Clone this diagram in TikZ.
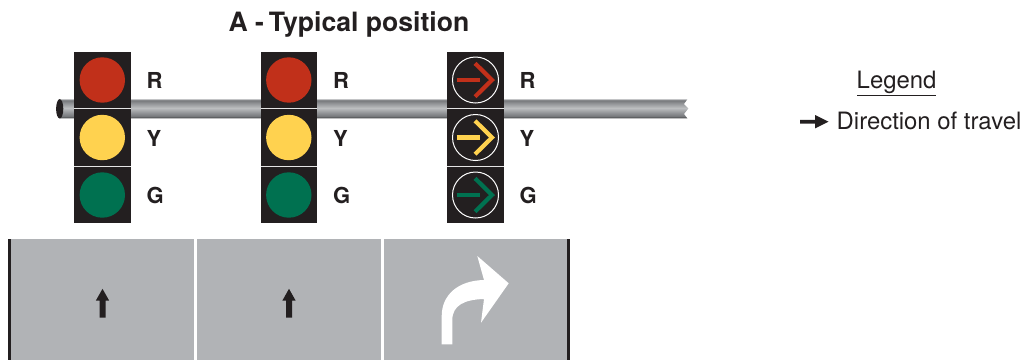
\documentclass[tikz,border=0pt]{standalone}
\usepackage{fontspec}
\setmainfont{TeX Gyre Heros}
\definecolor{poleA}{HTML}{BCBEC0}
\definecolor{poleB}{HTML}{9A9C9F}
\definecolor{poleC}{HTML}{77797C}
\definecolor{poleD}{HTML}{3F4042}
\definecolor{headblack}{HTML}{231F20}
\definecolor{sigred}{HTML}{C1301A}
\definecolor{sigyellow}{HTML}{FFD24F}
\definecolor{siggreen}{HTML}{007150}
\definecolor{roadgray}{HTML}{B1B3B6}
\pgfdeclareverticalshading{poleshade}{100bp}{
  color(0bp)=(poleD); color(25bp)=(poleD); color(31bp)=(poleC); color(42bp)=(poleB);
  color(52bp)=(poleA); color(62bp)=(poleB); color(72bp)=(poleC); color(75bp)=(poleB); color(100bp)=(poleB)}
\newcommand{\signalhead}[2]{%
  \fill[headblack] (#1-28.5,52) rectangle (#1+28,223);
  \draw[sepline] (#1-28.5,108.5) -- (#1+28,108.5);
  \draw[sepline] (#1-28.5,166.5) -- (#1+28,166.5);
  \node[siglabel] (#2r) at (#1+44,88) {R};
  \node[siglabel] (#2y) at (#1+44,146) {Y};
  \node[siglabel] (#2g) at (#1+44,203) {G};
}
\newcommand{\arrowlamp}[2]{%
  \draw[lampring] (475.5,#1) circle (23);
  \draw[#2,line width=4.2pt] (456.5,#1) -- (479.5,#1);
  \draw[#2,line width=4.2pt] (475,#1-16.7) -- (492,#1) -- (475,#1+16.7);
}
\newcommand{\uparrowmark}[1]{%
  \fill[headblack] (#1,288.8) -- (#1+6.7,300.7) -- (#1+3,300.7) -- (#1+3,317.7)
    -- (#1-3,317.7) -- (#1-3,300.7) -- (#1-6.7,300.7) -- cycle;
}
\tikzset{
  sepline/.style={white!90!black,line width=1.3pt},
  lampring/.style={draw=white,line width=1pt},
  siglabel/.style={font=\fontsize{22}{24}\selectfont\bfseries,text=headblack,anchor=base west,inner sep=0pt},
  legendtext/.style={font=\fontsize{23.9}{26}\selectfont,text=headblack,anchor=base west,inner sep=0pt},
}
\begin{document}
\begin{tikzpicture}[x=1pt,y=-1pt]
\useasboundingbox (0,0) rectangle (1024,360);
% title
\node[font=\fontsize{26.6}{28}\selectfont\bfseries,text=headblack,anchor=base,inner sep=0pt] (title) at (349,31) {A -{\kern-2.5pt} Typical position};
% pole
\shade[shading=poleshade] (60,99.3) -- (687.3,99.3) -- (684,104) -- (688.3,108.5) -- (684,114) -- (687.3,118.3) -- (60,118.3) -- cycle;
\fill[headblack] (59.7,108.8) ellipse [x radius=3.6,y radius=9.7];
% heads
\signalhead{102.5}{a}
\signalhead{289}{b}
\signalhead{475.5}{c}
\foreach \x in {102.3,288.8} {
  \fill[sigred] (\x,80) circle (22.7);
  \fill[sigyellow] (\x,137.5) circle (22.7);
  \fill[siggreen] (\x,195) circle (22.7);
}
\arrowlamp{80}{sigred}
\arrowlamp{137.5}{sigyellow}
\arrowlamp{195}{siggreen}
% road
\fill[roadgray] (8,239) rectangle (569,360);
\fill[headblack] (8,239) rectangle (11,360);
\fill[headblack] (567.3,239) rectangle (570,360);
\fill[white] (194.2,239) rectangle (197,360);
\fill[white] (381,239) rectangle (383.8,360);
\uparrowmark{102.5}
\uparrowmark{289}
\fill[white] (441.7,344.3) -- (441.7,316)
  .. controls (441.7,295) and (458,280.5) .. (484,280)
  -- (477.3,256) -- (508.7,283.3) -- (481,322.7) -- (484,299)
  .. controls (465,299.5) and (452.3,305) .. (452.3,320)
  -- (452.3,344.3) -- cycle;
% legend
\node[legendtext] (legend) at (856.5,88) {Legend};
\draw[headblack,line width=1.4pt] (857,95.7) -- (935.5,95.7);
\fill[headblack] (800,119.8) -- (815,119.8) -- (815,115) -- (828.5,121.7) -- (815,128.4) -- (815,123.6) -- (800,123.6) -- cycle;
\node[legendtext] (dir) at (836.5,129) {Direction of travel};
\end{tikzpicture}
\end{document}
